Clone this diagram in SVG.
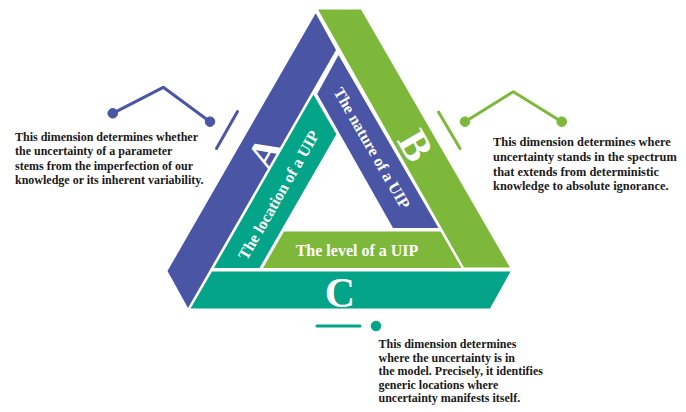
<svg xmlns="http://www.w3.org/2000/svg" width="686" height="412" viewBox="0 0 686 412">
<style>
.para{font-family:"Liberation Serif","Times New Roman",serif;font-weight:bold;font-size:12px;fill:#1a1a1a}
.lbl{font-family:"Liberation Serif","Times New Roman",serif;font-weight:bold;font-size:16px;fill:#ffffff;text-anchor:middle;dominant-baseline:central}
.big{font-family:"Liberation Serif","Times New Roman",serif;font-weight:bold;font-size:42px;fill:#ffffff;text-anchor:middle;dominant-baseline:central}
.blue{fill:#4b55a5}
.green{fill:#7db83a}
.teal{fill:#04a488}
.dec{fill:none;stroke-width:3;stroke-linecap:round;stroke-linejoin:round}
</style>
<rect width="686" height="412" fill="#ffffff"/>
<g id="barA">
<polygon class="blue" points="315.7,13.3 336,50 188,308 167.5,271"/>
<text class="big" transform="translate(265,153) rotate(-60)">A</text>
</g>
<g id="barB">
<polygon class="green" points="318,9.5 361,9.5 510,267.5 464,267.5"/>
<text class="big" transform="translate(415.5,145.5) rotate(60)">B</text>
</g>
<g id="barC">
<polygon class="teal" points="212,271.5 510.5,271.5 490,308.5 190.5,308.5"/>
<text class="big" x="340" y="292.5">C</text>
</g>
<g id="nature">
<polygon class="blue" points="338.5,55 438.5,228 393,228 317.2,94.1"/>
<text class="lbl" transform="translate(372,148) rotate(60)">The nature of a UIP</text>
</g>
<g id="location">
<polygon class="teal" points="313.4,94.6 336.4,134.3 259.5,268 213.9,268"/>
<text class="lbl" transform="translate(278.5,195) rotate(-60)">The location of a UIP</text>
</g>
<g id="level">
<polygon class="green" points="284,231.5 440.6,231.5 461.5,268 263,268"/>
<text class="lbl" x="357" y="250" fill="#f7f7e8">The level of a UIP</text>
</g>
<g id="connectors">
<g stroke="#4b55a5" fill="#4b55a5">
<polyline class="dec" points="112.7,113.3 163.3,87.3 210,121.7"/>
<circle cx="112.7" cy="113.3" r="4.8"/>
<circle cx="210" cy="121.7" r="4.8"/>
<line class="dec" x1="237.5" y1="111.5" x2="216.5" y2="148.5"/>
</g>
<g stroke="#7db83a" fill="#7db83a">
<polyline class="dec" points="465,121.7 513.3,91.7 561.7,121.7"/>
<circle cx="465" cy="121.7" r="4.8"/>
<circle cx="561.7" cy="121.7" r="4.8"/>
<line class="dec" x1="438.5" y1="112" x2="460" y2="148.5"/>
</g>
<g stroke="#04a488" fill="#04a488">
<line class="dec" x1="317" y1="326" x2="360" y2="326"/>
<circle cx="376" cy="326" r="4.8"/>
</g>
</g>
<g id="textA">
<text class="para" x="15" y="140.5">This dimension determines whether</text>
<text class="para" x="15" y="155">the uncertainty of a parameter</text>
<text class="para" x="15" y="169.5">stems from the imperfection of our</text>
<text class="para" x="15" y="184">knowledge or its inherent variability.</text>
</g>
<g id="textB">
<text class="para" x="493" y="146" style="font-size:12.4px">This dimension determines where</text>
<text class="para" x="493" y="161" style="font-size:12.4px">uncertainty stands in the spectrum</text>
<text class="para" x="493" y="175.5" style="font-size:12.4px">that extends from deterministic</text>
<text class="para" x="493" y="190" style="font-size:12.4px">knowledge to absolute ignorance.</text>
</g>
<g id="textC">
<text class="para" x="378.5" y="348">This dimension determines</text>
<text class="para" x="378.5" y="361.5">where the uncertainty is in</text>
<text class="para" x="378.5" y="375">the model. Precisely, it identifies</text>
<text class="para" x="378.5" y="388.5">generic locations where</text>
<text class="para" x="378.5" y="402">uncertainty manifests itself.</text>
</g>
</svg>
